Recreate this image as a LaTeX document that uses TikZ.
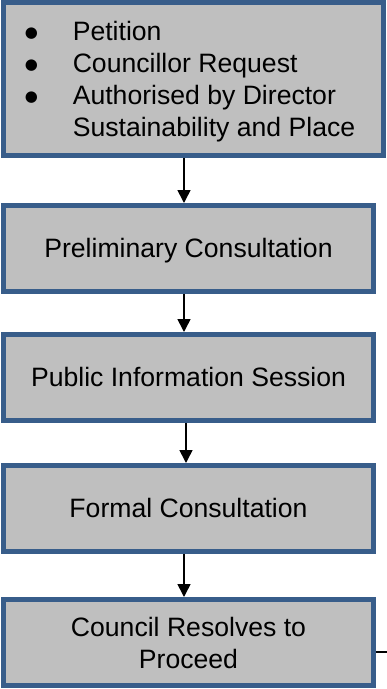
\documentclass[tikz,border=0pt]{standalone}
\usepackage{fontspec}
\setmainfont{Liberation Sans}
\newfontfamily\bulletfont{DejaVu Sans}
\usetikzlibrary{arrows.meta, positioning}
\definecolor{stageblue}{HTML}{385D8A}
\definecolor{stagegray}{HTML}{BFBFBF}
\newcommand{\stagebullet}{\hspace{-1pt}\raisebox{3pt}{\bulletfont\fontsize{15}{15}\selectfont ●}}

\begin{document}
\begin{tikzpicture}[x=1pt, y=-1pt,
  stagebox/.style={rectangle, draw=stageblue, fill=stagegray, line width=5pt,
    minimum width=370pt, minimum height=86pt, inner sep=0pt, align=center,
    font=\fontsize{26.6}{32}\selectfont},
  stage/.style={stagebox, text height=23.5pt, text depth=5.5pt},
  flow/.style={-{Triangle[width=13pt,length=13pt]}, line width=1.6pt}]

  \useasboundingbox (0,0) rectangle (387,689);

  \node[stagebox, minimum width=380pt, minimum height=153pt, align=left] (request) at (193.5,79)
    {\begin{tabular}{@{}p{47pt}@{}l@{\hspace{6pt}}}
      \rule{0pt}{28pt}\stagebullet & Petition\\
      \stagebullet & Councillor Request\\
      \stagebullet & Authorised by Director\\
       & Sustainability and Place
     \end{tabular}};
  \node[stage](prelim)[below=45pt of request.south west, anchor=north west]{Preliminary Consultation};
  \node[stage](session)[below=38pt of prelim]{Public Information Session};
  \node[stage](formal)[below=40pt of session]{Formal Consultation};
  \node[stagebox](resolve)[below=43pt of formal]{Council Resolves to\\Proceed};

  \coordinate (exit) at (387,652);

  \draw[flow] ([xshift=-9.5pt]request.south) -- ([xshift=-4.5pt]prelim.north);
  \draw[flow] ([xshift=-4.5pt]prelim.south) -- ([xshift=-4.5pt]session.north);
  \draw[flow] ([xshift=-2.5pt]session.south) -- ([xshift=-2.5pt]formal.north);
  \draw[flow] ([xshift=-4.5pt]formal.south) -- ([xshift=-4.5pt]resolve.north);
  \draw[line width=1.5pt] (resolve.east |- exit) -- (exit);
\end{tikzpicture}
\end{document}
